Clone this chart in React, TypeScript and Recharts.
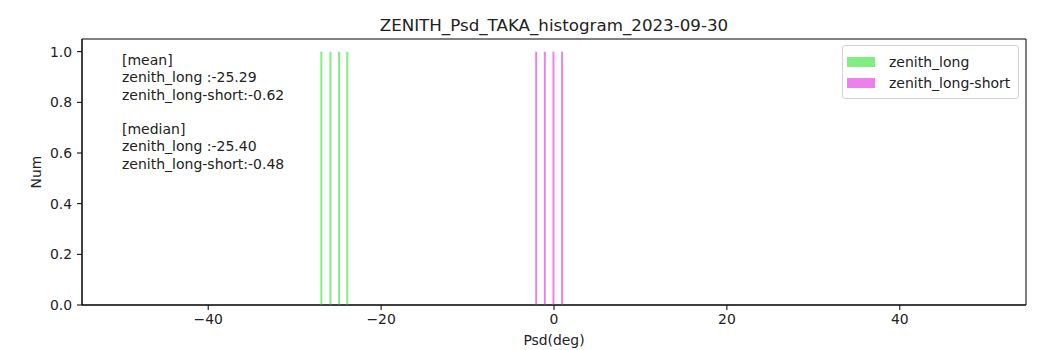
import { BarChart, Bar, XAxis, YAxis, Legend, ReferenceArea } from 'recharts';

// Psd values (deg) that fell into the histogram bins, one count each
const zenithLong = [-26.9, -25.85, -24.85, -23.9];
const zenithLongCounts = [1, 1, 1, 1];
const zenithLongShort = [-2.05, -1.05, -0.05, 0.95];
const zenithLongShortCounts = [1, 1, 1, 1];

const xTicks = [-40, -20, 0, 20, 40];
const yTicks = [0, 0.2, 0.4, 0.6, 0.8, 1.0];
const xDomain: [number, number] = [-54.6, 54.6];
const yDomain: [number, number] = [0, 1.05];

const statLines = [
  '[mean]',
  'zenith_long :-25.29',
  'zenith_long-short:-0.62',
  '',
  '[median]',
  'zenith_long :-25.40',
  'zenith_long-short:-0.48',
];

const rows = [
  ...zenithLong.map((psd, i) => ({ psd, long: zenithLongCounts[i] })),
  ...zenithLongShort.map((psd, i) => ({ psd, longShort: zenithLongShortCounts[i] })),
];

const FONT = '"DejaVu Sans", sans-serif';
const GREEN = '#80ee80';
const PINK = '#ee80ee';

function HistLegend({ payload }: any) {
  return (
    <div
      style={{
        border: '1px solid #d4d4d4',
        borderRadius: 3,
        background: '#fff',
        padding: '5px 8px 5px 4px',
        fontFamily: FONT,
        fontSize: 14,
        color: '#222',
      }}
    >
      {(payload || []).map((p: any) => (
        <div key={p.value} style={{ display: 'flex', alignItems: 'center', height: 21 }}>
          <span style={{ width: 28, height: 10, background: p.color, marginRight: 14 }} />
          <span>{p.value}</span>
        </div>
      ))}
    </div>
  );
}

const fmtY = (v: number) => v.toFixed(1);
const fmtX = (v: number) => String(v).replace('-', '\u2212');

export default function App() {
  return (
    <div style={{ position: 'absolute', left: 0, top: 0, width: 1037, height: 350, background: '#fff' }}>
      <BarChart
        width={1037}
        height={350}
        data={rows}
        margin={{ top: 39, right: 11, bottom: 0, left: 0 }}
        style={{ fontFamily: FONT }}
      >
        <XAxis
          dataKey="psd"
          type="number"
          domain={xDomain}
          ticks={xTicks}
          tickFormatter={fmtX}
          allowDataOverflow
          height={45}
          stroke="#000"
          tickSize={5}
          tickMargin={4}
          tick={{ fill: '#222', fontSize: 13.9 }}
          label={{
            content: ({ viewBox }: any) => (
              <text
                x={viewBox.x + viewBox.width / 2}
                y={viewBox.y + 35}
                textAnchor="middle"
                dominantBaseline="central"
                fontSize={13.9}
                fill="#222"
              >
                Psd(deg)
              </text>
            ),
          }}
        />
        <YAxis
          domain={yDomain}
          ticks={yTicks}
          tickFormatter={fmtY}
          width={82}
          stroke="#000"
          tickSize={5}
          tickMargin={5}
          tick={{ fill: '#222', fontSize: 13.9 }}
          label={{
            content: ({ viewBox }: any) => {
              const cx = viewBox.x + 36;
              const cy = viewBox.y + viewBox.height / 2;
              return (
                <text
                  x={cx}
                  y={cy}
                  transform={`rotate(-90, ${cx}, ${cy})`}
                  textAnchor="middle"
                  dominantBaseline="central"
                  fontSize={13.9}
                  fill="#222"
                >
                  Num
                </text>
              );
            },
          }}
        />
        {/* full box around the plot area */}
        <ReferenceArea
          x1={xDomain[0]}
          x2={xDomain[1]}
          y1={yDomain[0]}
          y2={yDomain[1]}
          fill="none"
          stroke="#000"
          strokeWidth={1}
          ifOverflow="visible"
        />
        <Legend
          layout="vertical"
          align="center"
          verticalAlign="middle"
          content={<HistLegend />}
          wrapperStyle={{ left: 842, top: 45, width: 'auto' }}
        />
        <Bar dataKey="long" name="zenith_long" stackId="h" fill={GREEN} barSize={2} isAnimationActive={false} />
        <Bar dataKey="longShort" name="zenith_long-short" stackId="h" fill={PINK} barSize={2} isAnimationActive={false} />
      </BarChart>

      <div
        style={{
          position: 'absolute',
          left: 0,
          width: 1108,
          top: 15,
          textAlign: 'center',
          fontFamily: FONT,
          fontSize: 16.7,
          color: '#222',
        }}
      >
        ZENITH_Psd_TAKA_histogram_2023-09-30
      </div>

      <div
        style={{
          position: 'absolute',
          left: 122,
          top: 52,
          fontFamily: FONT,
          fontSize: 14,
          lineHeight: '17.3px',
          color: '#222',
          whiteSpace: 'pre',
        }}
      >
        {statLines.map((t, i) => (
          <div key={i} style={{ height: 17.3 }}>{t}</div>
        ))}
      </div>
    </div>
  );
}
